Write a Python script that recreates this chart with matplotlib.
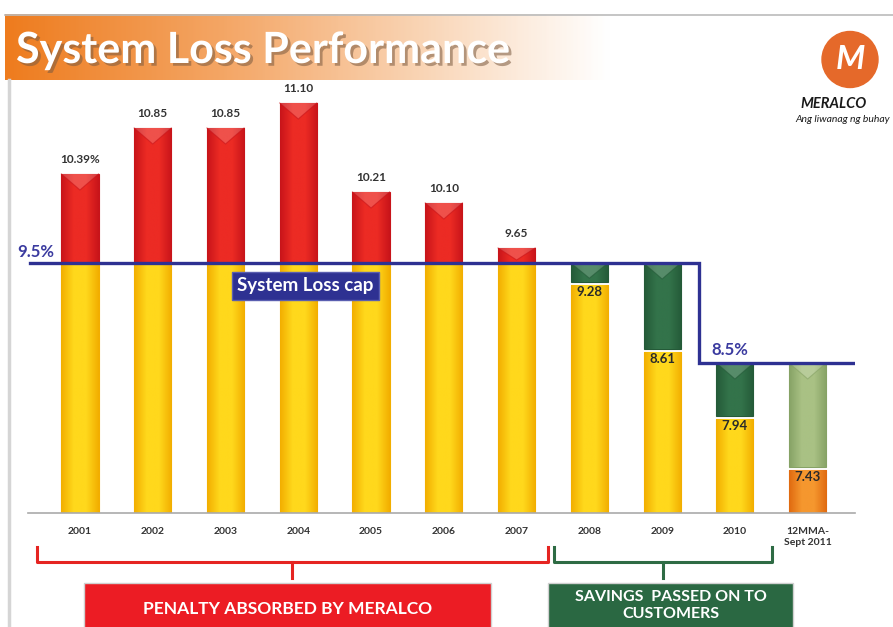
import numpy as np
import matplotlib
matplotlib.use("Agg")
import matplotlib.pyplot as plt
from matplotlib.patches import Rectangle, Polygon, Circle
from matplotlib.colors import LinearSegmentedColormap
from matplotlib.transforms import blended_transform_factory
import matplotlib.patheffects as pe

# ---------------- data ----------------
categories = ["2001", "2002", "2003", "2004", "2005", "2006", "2007",
              "2008", "2009", "2010", "12MMA-\nSept 2011"]
loss_values = [10.39, 10.85, 10.85, 11.10, 10.21, 10.10, 9.65,
               9.28, 8.61, 7.94, 7.43]
cap_values = [9.5, 9.5, 9.5, 9.5, 9.5, 9.5, 9.5, 9.5, 9.5, 8.5, 8.5]
value_labels = ["10.39%", "10.85", "10.85", "11.10", "10.21", "10.10", "9.65",
                "9.28", "8.61", "7.94", "7.43"]
cap_labels = ["9.5%", "8.5%"]
penalty_group = [0, 6]
savings_group = [7, 9]
title_text = "System Loss Performance"
cap_box_text = "System Loss cap"
penalty_text = "PENALTY ABSORBED BY MERALCO"
savings_text = "SAVINGS  PASSED ON TO\nCUSTOMERS"

# ---------------- style ----------------
W, H = 893, 627
FONT = ["Lato", "DejaVu Sans"]
plt.rcParams["font.family"] = FONT
AXIS_MIN = 7.0
BAR_W = 0.51
YELLOW = ("#F2AE00", "#FFD81C")
ORANGE = ("#E06A10", "#F5972E")
RED = ("#C8141A", "#EC2B24")
GREEN = ("#245A38", "#33734A")
LGREEN = ("#86A265", "#A9C184")
CAP_COLOR = "#2E3192"


def fx(px):
    return px / W


def fy(py):
    return 1 - py / H


fig = plt.figure(figsize=(W / 100, H / 100), dpi=100)
fig.patch.set_facecolor("white")

# title banner
bax = fig.add_axes([fx(5), fy(80), 1 - fx(5), 66 / H])
grad = np.linspace(0, 1, 400).reshape(1, -1)
bcmap = LinearSegmentedColormap.from_list(
    "ban", [(0, "#EE7C1E"), (0.25, "#F4A767"), (0.5, "#FADBC0"),
            (0.68, "#FFFFFF"), (1, "#FFFFFF")])
bax.imshow(grad, aspect="auto", cmap=bcmap, extent=[0, 1, 0, 1])
bax.set_xlim(0, 1)
bax.set_ylim(0, 1)
bax.axis("off")
fig.add_artist(plt.Line2D([fx(5), 1], [fy(15), fy(15)], color="#BBBBBB", lw=1.2))
fig.add_artist(plt.Line2D([fx(9), fx(9)], [0, fy(80)], color="#D5D5D5", lw=2.5))
fig.text(fx(16), fy(50), title_text, fontsize=31, fontweight="bold",
         color="white", va="center", ha="left",
         path_effects=[pe.SimplePatchShadow(offset=(2, -2), shadow_rgbFace="#7A5A40",
                                            alpha=0.55), pe.Normal()])

# logo
lax = fig.add_axes([fx(815), fy(98), 70 / W, 70 / H])
lax.set_xlim(0, 1)
lax.set_ylim(0, 1)
lax.set_aspect("equal")
lax.axis("off")
lax.add_patch(Circle((0.5, 0.55), 0.40, color="#E5692A"))
lax.text(0.5, 0.55, "M", fontsize=24, fontweight="bold", style="italic",
         color="white", ha="center", va="center")
fig.text(fx(800), fy(104), "MERALCO", fontsize=10.5, fontweight="bold",
         style="italic", color="#1A1A1A", va="center", ha="left")
fig.text(fx(795), fy(119), "Ang liwanag ng buhay", fontsize=7.5,
         style="italic", color="#1A1A1A", va="center", ha="left")

# main axes
ax = fig.add_axes([fx(28), fy(513), 827 / W, 428 / H])
xlim = (-0.714, 10.65)
ylim = (AXIS_MIN, 11.28)
x = np.arange(len(categories))


def grad_bar(xc, bottom, top, colors, bevel=False):
    bars = ax.bar(xc, top - bottom, bottom=bottom, width=BAR_W,
                  color=colors[1], edgecolor=colors[0], linewidth=0.8, zorder=2)
    rect = bars.patches[0]
    cmap = LinearSegmentedColormap.from_list("g", [colors[0], colors[1], colors[1], colors[0]])
    im = ax.imshow(np.linspace(0, 1, 100).reshape(1, -1), cmap=cmap, aspect="auto",
                   extent=[xc - BAR_W / 2, xc + BAR_W / 2, bottom, top], zorder=2.1)
    im.set_clip_path(rect)
    if bevel:
        d = min(0.16, (top - bottom) * 0.8)
        ax.add_patch(Polygon([[xc - BAR_W / 2, top], [xc + BAR_W / 2, top],
                              [xc, top - d]], closed=True, facecolor="white",
                             alpha=0.18, edgecolor="none", zorder=2.2))
        ax.plot([xc - BAR_W / 2, xc, xc + BAR_W / 2], [top, top - d, top],
                color=colors[0], lw=0.8, alpha=0.6, zorder=2.3)


n = len(categories)
for i in range(n):
    v, c = loss_values[i], cap_values[i]
    last = (i == n - 1)
    if v >= c:
        grad_bar(x[i], AXIS_MIN, c, YELLOW)
        grad_bar(x[i], c, v, RED, bevel=True)
        ax.text(x[i], v + 0.14, value_labels[i], ha="center", va="center",
                fontsize=8.5, fontweight="bold", color="#333333", zorder=5)
    else:
        grad_bar(x[i], AXIS_MIN, v, ORANGE if last else YELLOW)
        grad_bar(x[i], v + 0.03, c, LGREEN if last else GREEN, bevel=True)
        ax.text(x[i], v - 0.07, value_labels[i], ha="center", va="center",
                fontsize=9.5, fontweight="bold", color="#2A2A2A", zorder=5)

# cap line
cx = [xlim[0] + 0.03] + list(x) + [xlim[1]]
cy = [cap_values[0]] + cap_values + [cap_values[-1]]
ax.step(cx, cy, where="mid", color=CAP_COLOR, lw=2.4, zorder=4, solid_joinstyle="miter")
ax.text(-0.865, cap_values[0] + 0.11, cap_labels[0], fontsize=12, fontweight="bold",
        color="#3B3BA0", ha="left", va="center", clip_on=False, zorder=5)
ax.text(8.68, cap_values[-1] + 0.13, cap_labels[1], fontsize=12, fontweight="bold",
        color="#3B3BA0", ha="left", va="center", zorder=5)
ax.text(3.10, cap_values[0] - 0.23, cap_box_text, fontsize=13.5, fontweight="bold",
        color="white", ha="center", va="center", zorder=6,
        bbox=dict(boxstyle="square,pad=0.3", facecolor=CAP_COLOR,
                  edgecolor="#5A5EB0", linewidth=1.0))

ax.set_xlim(*xlim)
ax.set_ylim(*ylim)
ax.set_xticks(x)
ax.set_xticklabels(categories, fontsize=7.5, fontweight="bold", color="#333333",
                   linespacing=1.3)
ax.tick_params(axis="x", length=0, pad=10)
ax.set_yticks([])
for s in ["top", "right", "left"]:
    ax.spines[s].set_visible(False)
ax.spines["bottom"].set_color("#AAAAAA")
ax.spines["bottom"].set_linewidth(1.2)
ax.set_facecolor("none")

# brackets
tr = blended_transform_factory(ax.transData, fig.transFigure)


def bracket(g, color, left_pad, right_pad):
    x0 = g[0] - left_pad
    x1 = g[1] + right_pad
    xm = (x0 + x1) / 2
    y_top, y_mid, y_stub = fy(547), fy(562), fy(578)
    fig.add_artist(plt.Line2D([x0, x0, x1, x1], [y_top, y_mid, y_mid, y_top],
                              color=color, lw=2.2, transform=tr,
                              solid_joinstyle="round"))
    fig.add_artist(plt.Line2D([xm, xm], [y_mid, y_stub], color=color, lw=2.2,
                              transform=tr))


bracket(penalty_group, "#E52421", 0.59, 0.43)
bracket(savings_group, "#2E6B44", 0.48, 0.51)

fig.add_artist(Rectangle((fx(84), fy(640)), fx(491) - fx(84), fy(583) - fy(640),
                         facecolor="#EC1C24", edgecolor="#D0D0D0", lw=1,
                         transform=fig.transFigure))
fig.text((fx(84) + fx(491)) / 2, fy(609), penalty_text, fontsize=12.5,
         fontweight="bold", color="white", ha="center", va="center")
fig.add_artist(Rectangle((fx(548), fy(640)), fx(793) - fx(548), fy(583) - fy(640),
                         facecolor="#2A6842", edgecolor="#D0D0D0", lw=1,
                         transform=fig.transFigure))
fig.text((fx(548) + fx(793)) / 2, fy(590), savings_text, fontsize=11.5,
         fontweight="bold", color="white", ha="center", va="top",
         linespacing=1.3)

fig.savefig("out.png", dpi=100, facecolor="white")
